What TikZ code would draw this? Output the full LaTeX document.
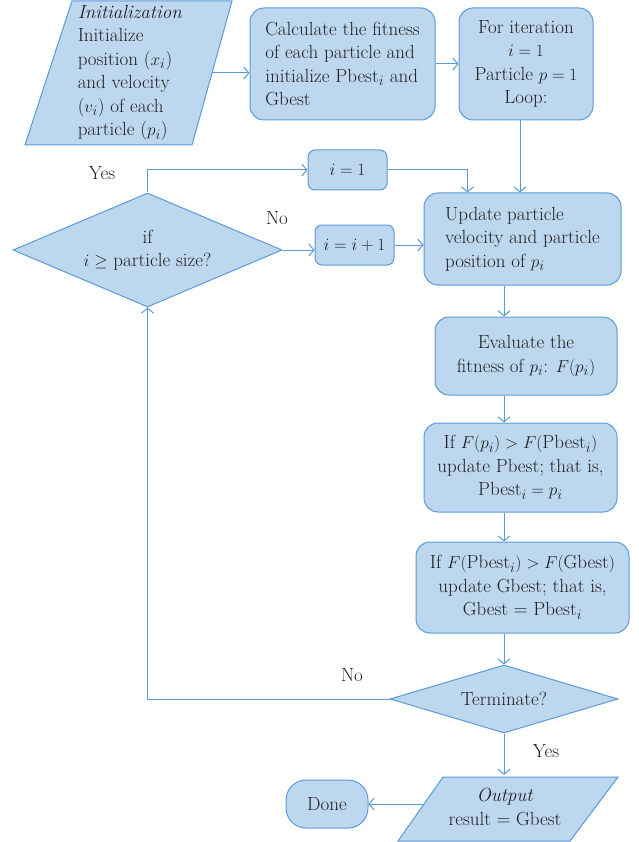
\documentclass[tikz,border=0pt]{standalone}
\usepackage{amsmath}
\usetikzlibrary{shapes.geometric,arrows.meta}
\definecolor{boxfill}{HTML}{BDD7EE}
\definecolor{boxline}{HTML}{5B9BD5}
\definecolor{ink}{HTML}{231F20}
\begin{document}
\begin{tikzpicture}[x=1pt,y=-1pt,
  font=\fontsize{19}{23.5}\selectfont, text=ink,
  proc/.style={draw=boxline, fill=boxfill, line width=1pt, rounded corners=14pt,
    align=center, inner sep=0pt},
  smallproc/.style={proc, rounded corners=7pt},
  dec/.style={diamond, draw=boxline, fill=boxfill, line width=1pt, inner sep=0pt, align=center},
  iobox/.style={draw=boxline, fill=boxfill, line width=1pt, line join=miter},
  iotext/.style={inner sep=0pt, align=left},
  flow/.style={draw=boxline, line width=1pt, -{Straight Barb[length=5pt,width=12pt]}},
  lbl/.style={inner sep=0pt}
]
\useasboundingbox (0,0) rectangle (638,842);

% input / output parallelograms
\draw[iobox] (72,1) -- (232,1) -- (192,145) -- (25,145) -- cycle;
\node[iotext, minimum width=164pt, minimum height=144pt] (init) at (130,73)
  {\textit{Initialization}\\ Initialize\\ position ($x_i$)\\ and velocity\\ ($v_i$) of each\\ particle ($p_i$)};

\draw[iobox] (443,777) -- (618,777) -- (570,841) -- (398,841) -- cycle;
\node[iotext, align=center, minimum width=173pt, minimum height=64pt] (out) at (505,807)
  {\textit{Output}\\ result = Gbest};

% process boxes
\node[proc, align=left, minimum width=185pt, minimum height=112pt] (calc) at (342.5,64)
  {Calculate the fitness\\ of each particle and\\ initialize Pbest$_i$ and\\ Gbest};
\node[proc, minimum width=134pt, minimum height=112pt] (iter) at (526,64)
  {For iteration\\ $i = 1$\\ Particle $p = 1$\\ Loop:};
\node[smallproc, minimum width=79pt, minimum height=40pt] (ione) at (347.5,170) {$i = 1$};
\node[smallproc, minimum width=79pt, minimum height=40pt] (inext) at (354.5,245) {$i = i + 1$};
\node[proc, align=left, minimum width=197pt, minimum height=92pt] (update) at (522.5,239)
  {Update particle\\ velocity and particle\\ position of $p_i$};
\node[proc, minimum width=182pt, minimum height=78pt] (eval) at (526,356)
  {Evaluate the\\ fitness of $p_i$: $F(p_i)$};
\node[proc, minimum width=193pt, minimum height=89pt] (pbest) at (520.5,467.5)
  {If $F(p_i) > F(\text{Pbest}_i)$\\ update Pbest; that is,\\ Pbest$_i = p_i$};
\node[proc, minimum width=213pt, minimum height=91pt] (gbest) at (522.5,587.5)
  {If $F(\text{Pbest}_i) > F(\text{Gbest})$\\ update Gbest; that is,\\ Gbest = Pbest$_i$};
\node[proc, rounded corners=20pt, minimum width=82pt, minimum height=48pt] (done) at (327,804) {Done};

% decisions
\node[dec, aspect=2.36, minimum width=269pt, minimum height=114pt] (check) at (147.5,250)
  {if\\ $i \geq$ particle size?};
\node[dec, aspect=3.35, minimum width=228pt, minimum height=68pt] (term) at (504,699) {Terminate?};

% connectors
\draw[flow] (init.east) -- (init.east -| calc.west);
\draw[flow] (calc.east) -- (iter.west);
\draw[flow] ([xshift=-6pt]iter.south) -- ([xshift=-6pt]iter.south |- update.north);
\draw[flow] (ione.east) -| ([xshift=-55pt]update.north);
\draw[flow] (inext.east) -- (inext.east -| update.west);
\draw[flow] (check.north) |- (ione.west);
\draw[flow] (check.east) -- (check.east -| inext.west);
\draw[flow] (update.south -| term.north) -- (eval.north -| term.north);
\draw[flow] (eval.south -| term.north) -- (pbest.north -| term.north);
\draw[flow] (pbest.south -| term.north) -- (gbest.north -| term.north);
\draw[flow] (gbest.south -| term.north) -- (term.north);
\draw[flow] (term.west) -| (check.south);
\draw[flow] (term.south) -- (term.south |- out.north);
\draw[flow] ([xshift=5pt]out.west |- done.east) -- (done.east);

% branch labels
\node[lbl] (yes1) at (102,173) {Yes};
\node[lbl] (no1) at (277,218) {No};
\node[lbl] (no2) at (352,675) {No};
\node[lbl] (yes2) at (546,751) {Yes};
\end{tikzpicture}
\end{document}
